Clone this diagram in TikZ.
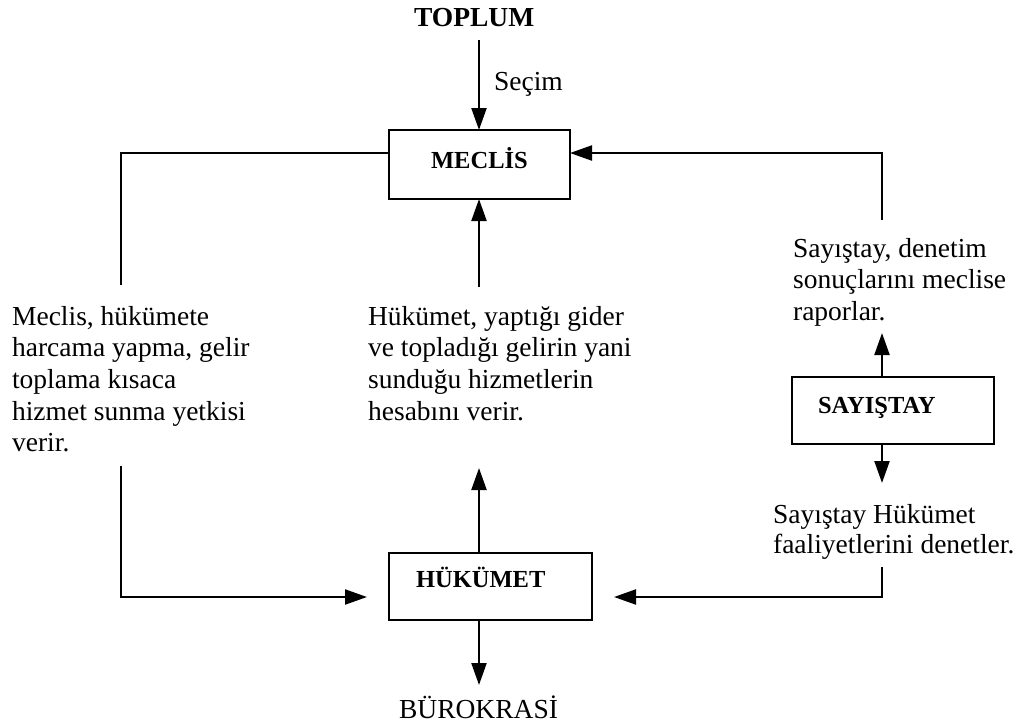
\documentclass[tikz,border=0pt]{standalone}
\usepackage{fontspec}
\setmainfont{Liberation Serif}
\usetikzlibrary{arrows.meta}
\begin{document}
\begin{tikzpicture}[x=1pt, y=-1pt,
  line width=2.2pt,
  arr/.style={-{Triangle[length=22pt,width=15pt]}},
  box/.style={draw, rectangle, inner sep=0pt, outer sep=0pt},
  lbl/.style={inner sep=0pt, anchor=base west, font=\fontsize{24.5}{28}\selectfont\bfseries},
  txt/.style={inner sep=0pt, anchor=base west, align=left, font=\fontsize{27.5}{31.7}\selectfont},
]
\useasboundingbox (0,0) rectangle (1023,726);

% boxes
\node[box, minimum width=181pt, minimum height=69pt] (meclis) at (479.5,164.5) {};
\node[box, minimum width=203pt, minimum height=67pt] (hukumet) at (490.5,586.5) {};
\node[box, minimum width=202pt, minimum height=67pt] (sayistay) at (893,410.5) {};

% box labels
\node[lbl] (meclisl) at (430,168) {MECLİS};
\node[lbl] (hukumetl) at (415,587) {HÜKÜMET};
\node[lbl] (sayistayl) at (817,413) {SAYIŞTAY};

% free texts (multi-line blocks are placed by the baseline of their last line)
\node[inner sep=0pt, anchor=base west, font=\fontsize{27.5}{31}\selectfont\bfseries] (toplum) at (413,26) {TOPLUM};
\node[txt] (secim) at (493,90) {Seçim};
\node[txt] (burokrasi) at (398,718) {BÜROKRASİ};
\node[txt] (yetki) at (11,451.8) {Meclis, hükümete\\harcama yapma, gelir\\toplama kısaca\\hizmet sunma yetkisi\\verir.};
\node[txt] (hesap) at (367,420.1) {Hükümet, yaptığı gider\\ve topladığı gelirin yani\\sunduğu hizmetlerin\\hesabını verir.};
\node[txt] (rapor) at (792,320.4) {Sayıştay, denetim\\sonuçlarını meclise\\raporlar.};
\node[txt, font=\fontsize{27.5}{30}\selectfont] (denetim) at (772,553) {Sayıştay Hükümet\\faaliyetlerini denetler.};

% connector end points
\coordinate (secimtop) at (479,40);
\coordinate (lefttop) at (121,285);
\coordinate (leftbot) at (121,466);
\coordinate (midup) at (479,287);
\coordinate (hukup) at (479,468);
\coordinate (righttop) at (882,220);
\coordinate (sayup) at (882,333);
\coordinate (saydown) at (882,483);
\coordinate (rightbot) at (882,567);
\coordinate (burdown) at (479,685);

% connectors
\draw[arr] (secimtop) -- (secimtop |- meclis.north);
\draw (lefttop) |- ([yshift=11.5pt]meclis.west);
\draw[arr, shorten >=22pt] (leftbot) |- ([yshift=-10.5pt]hukumet.west);
\draw[arr] (midup) -- (midup |- meclis.south);
\draw[arr] (hukup |- hukumet.north) -- (hukup);
\draw[arr] (righttop) |- ([yshift=11.5pt]meclis.east);
\draw[arr] (sayup |- sayistay.north) -- (sayup);
\draw[arr] (saydown |- sayistay.south) -- (saydown);
\draw[arr, shorten >=22pt] (rightbot) |- ([yshift=-10.5pt]hukumet.east);
\draw[arr] (burdown |- hukumet.south) -- (burdown);
\end{tikzpicture}
\end{document}
